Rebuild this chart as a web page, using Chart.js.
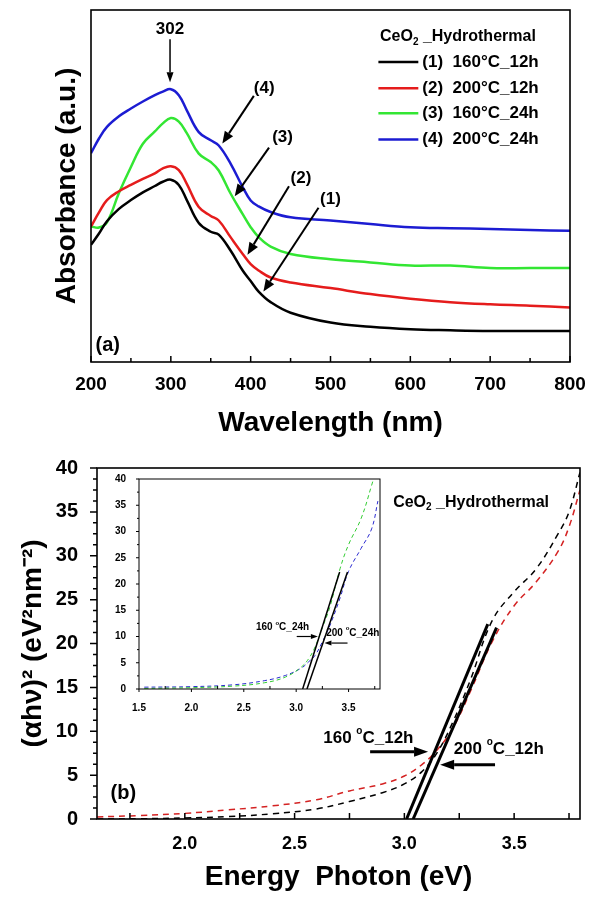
<!DOCTYPE html>
<html>
<head>
<meta charset="utf-8">
<script src="https://cdn.jsdelivr.net/npm/chart.js@4"></script>
<style>
    html, body { margin: 0; padding: 0; background: #fff; }
    body { width: 600px; height: 898px; position: relative; overflow: hidden; }
    canvas { position: absolute; }
    #chartA { left: 0; top: 0; width: 600px; height: 445px; }
    #chartB { left: 0; top: 445px; width: 600px; height: 453px; }
    #chartC { left: 110px; top: 468px; width: 276px; height: 244px; }
</style>
</head>
<body>
<canvas id="chartA" width="600" height="445"></canvas>
<canvas id="chartB" width="600" height="453"></canvas>
<canvas id="chartC" width="276" height="244"></canvas>
<script>
// ---- panel (a): absorbance spectra ----
const wavelength = [200, 210, 220, 235, 250, 265, 280, 290, 300, 310, 320, 335, 350, 360, 375, 390, 400, 410, 425, 450, 500, 550, 600, 650, 700, 750, 800];
const abs160_12 = [33.3, 36.5, 40, 43.5, 46, 48.2, 50, 51.2, 51.8, 50.3, 46, 39.5, 37, 36.2, 31.6, 26, 23, 20, 17, 14, 11.2, 10, 9.3, 9, 8.8, 8.8, 8.8];
const abs200_12 = [38.5, 42.5, 46, 48.5, 50.3, 52, 53.6, 55, 55.6, 54.5, 50.6, 44, 41.5, 40.2, 35.4, 30.7, 27.8, 26, 24, 22.6, 21, 19.3, 18, 17, 16.4, 16, 15.5];
const abs160_24 = [38.5, 38.2, 39.7, 48, 55.4, 62, 65.5, 67.8, 69.3, 68.3, 65, 59.2, 56.8, 54.4, 47.8, 42, 38.3, 35.5, 32.8, 30.7, 29.2, 28.3, 27.4, 27.4, 26.7, 26.7, 26.7];
const abs200_24 = [59.3, 63.5, 66.8, 69.8, 72, 74, 75.8, 76.8, 77.5, 75.8, 71.5, 65.3, 63, 61.5, 56.3, 49.7, 45.9, 44.2, 42.6, 41.1, 40.2, 39.2, 38.3, 38, 37.8, 37.5, 37.3];
const seriesLabelsA = ['(1)  160°C_12h', '(2)  200°C_12h', '(3)  160°C_24h', '(4)  200°C_24h'];
const xTicksA = [200, 300, 400, 500, 600, 700, 800];
const xMinorA = [250, 350, 450, 550, 650, 750];

// ---- panel (b): Tauc plot ----
const energyB = [1.6, 1.8, 2.0, 2.2, 2.4, 2.6, 2.75, 2.9, 3.0, 3.08, 3.15, 3.22, 3.3, 3.4, 3.5, 3.6, 3.7, 3.75, 3.8];
const tauc160_12 = [0, 0.03, 0.12, 0.28, 0.6, 1.15, 2.0, 3.0, 4.0, 5.4, 7.6, 11, 15.8, 22.6, 25.9, 28.5, 32.5, 35, 39.5];
const tauc200_12 = [0.24, 0.4, 0.64, 1.05, 1.5, 2.2, 3.2, 4.0, 4.9, 6.2, 7.9, 10.3, 14.5, 20.2, 24.3, 27, 30.5, 33.3, 37.5];
const fit160_12E = [3.01, 3.38], fit160_12Y = [0, 22.2];
const fit200_12E = [3.04, 3.42], fit200_12Y = [0, 21.8];
const xTicksB = [2.0, 2.5, 3.0, 3.5];
const xMinorB = [1.75, 2.25, 2.75, 3.25, 3.75];
const yTicksB = [0, 5, 10, 15, 20, 25, 30, 35, 40];

// ---- inset ----
const energyC = [1.55, 2.0, 2.4, 2.7, 2.9, 3.05, 3.12, 3.18, 3.25, 3.32, 3.42, 3.5, 3.62, 3.72, 3.78];
const tauc160_24 = [0.1, 0.25, 0.55, 1.2, 2.3, 4.2, 5.8, 8, 11.7, 15.5, 23, 27.5, 32.5, 38.8, 43];
const tauc200_24 = [0.35, 0.45, 0.8, 1.6, 2.6, 4.0, 5.2, 6.4, 9, 12, 17.4, 22.4, 26.8, 30.5, 35.8];
const fit160_24E = [3.062, 3.415], fit160_24Y = [0, 22.3];
const fit200_24E = [3.103, 3.49], fit200_24Y = [0, 22.3];
const xTicksC = [1.5, 2.0, 2.5, 3.0, 3.5];
const xMinorC = [1.75, 2.25, 2.75, 3.25, 3.75];
const yTicksC = [0, 5, 10, 15, 20, 25, 30, 35, 40];

const FONT = "'Liberation Sans', Arial, Helvetica, sans-serif";
Chart.defaults.font.family = FONT;
Chart.defaults.color = '#000';

function minorsBetween(major, parts) {
    const out = [];
    for (let i = 0; i < major.length - 1; i++) {
        const step = (major[i + 1] - major[i]) / parts;
        for (let k = 1; k < parts; k++) out.push(major[i] + k * step);
    }
    return out;
}

function pts(xs, ys) {
    return xs.map((v, i) => ({ x: v, y: ys[i] }));
}

// frame around plot area
const framePlugin = {
    id: 'frame',
    afterDraw(chart) {
        const { ctx, chartArea: a } = chart;
        ctx.save();
        ctx.strokeStyle = '#000';
        ctx.lineWidth = chart.canvas.id === 'chartC' ? 1 : 1.6;
        ctx.strokeRect(a.left, a.top, a.right - a.left, a.bottom - a.top);
        ctx.restore();
    }
};

// tick marks: list of {axis, values, len, dir}
function tickPlugin(list, width) {
    return {
        id: 'tickMarks',
        afterDraw(chart) {
            const { ctx, chartArea: a } = chart;
            ctx.save();
            ctx.strokeStyle = '#000';
            ctx.lineWidth = width;
            ctx.beginPath();
            list.forEach(t => {
                const s = chart.scales[t.axis];
                t.values.forEach(v => {
                    const p = s.getPixelForValue(v);
                    if (t.axis === 'x') {
                        const d = t.dir === 'in' ? -t.len : t.len;
                        ctx.moveTo(p, a.bottom);
                        ctx.lineTo(p, a.bottom + d);
                    } else {
                        const d = t.dir === 'in' ? t.len : -t.len;
                        ctx.moveTo(a.left, p);
                        ctx.lineTo(a.left + d, p);
                    }
                });
            });
            ctx.stroke();
            ctx.restore();
        }
    };
}

function drawArrow(ctx, x1, y1, x2, y2, w, head, half) {
    const ang = Math.atan2(y2 - y1, x2 - x1);
    const bx = x2 - head * Math.cos(ang), by = y2 - head * Math.sin(ang);
    ctx.lineWidth = w;
    ctx.beginPath();
    ctx.moveTo(x1, y1);
    ctx.lineTo(bx, by);
    ctx.stroke();
    ctx.beginPath();
    ctx.moveTo(x2, y2);
    ctx.lineTo(bx + half * Math.sin(ang), by - half * Math.cos(ang));
    ctx.lineTo(bx - half * Math.sin(ang), by + half * Math.cos(ang));
    ctx.closePath();
    ctx.fill();
}

// text parts: [{t, size, dy}]
function drawParts(ctx, x, y, parts, align) {
    let total = 0;
    parts.forEach(p => {
        ctx.font = 'bold ' + p.size + 'px ' + FONT;
        p.w = ctx.measureText(p.t).width;
        total += p.w;
    });
    let cx = align === 'center' ? x - total / 2 : x;
    ctx.textAlign = 'left';
    ctx.textBaseline = 'middle';
    parts.forEach(p => {
        ctx.font = 'bold ' + p.size + 'px ' + FONT;
        ctx.fillText(p.t, cx, y + (p.dy || 0));
        cx += p.w;
    });
}

function notesPlugin(items) {
    return {
        id: 'notes',
        afterDraw(chart) {
            const { ctx, scales: { x, y } } = chart;
            ctx.save();
            ctx.fillStyle = '#000';
            ctx.strokeStyle = '#000';
            items.forEach(it => {
                if (it.arrow) {
                    const [a, b, c, d] = it.arrow;
                    drawArrow(ctx, x.getPixelForValue(a), y.getPixelForValue(b),
                        x.getPixelForValue(c), y.getPixelForValue(d), it.w, it.head, it.half);
                } else {
                    const parts = it.parts || [{ t: it.text, size: it.size }];
                    drawParts(ctx, x.getPixelForValue(it.at[0]), y.getPixelForValue(it.at[1]), parts, it.align || 'center');
                }
            });
            ctx.restore();
        }
    };
}

// legend for panel (a)
const legendA = {
    id: 'legendA',
    afterDraw(chart) {
        const { ctx, scales: { x, y } } = chart;
        ctx.save();
        drawParts(ctx, x.getPixelForValue(562), y.getPixelForValue(92.4),
            [{ t: 'CeO', size: 16 }, { t: '2', size: 10, dy: 5 }, { t: ' _Hydrothermal', size: 16 }], 'left');
        const rows = [85.2, 77.8, 70.7, 63.2];
        chart.data.datasets.forEach((ds, i) => {
            const py = y.getPixelForValue(rows[i]);
            ctx.strokeStyle = ds.borderColor;
            ctx.lineWidth = 2.5;
            ctx.beginPath();
            ctx.moveTo(x.getPixelForValue(560), py);
            ctx.lineTo(x.getPixelForValue(610), py);
            ctx.stroke();
            ctx.fillStyle = '#000';
            drawParts(ctx, x.getPixelForValue(615), py, [{ t: ds.label, size: 17 }], 'left');
        });
        ctx.restore();
    }
};

const colorsA = ['#000000', '#e51c1c', '#33e633', '#1c1cd2'];
const seriesA = [abs160_12, abs200_12, abs160_24, abs200_24];

new Chart(document.getElementById('chartA'), {
    type: 'line',
    data: {
        datasets: seriesA.map((s, i) => ({
            label: seriesLabelsA[i],
            data: pts(wavelength, s),
            borderColor: colorsA[i],
            borderWidth: 2.5,
            pointRadius: 0,
            tension: 0.4,
            fill: false
        }))
    },
    options: {
        responsive: false,
        animation: false,
        layout: { padding: { top: 10, right: 30, left: 0, bottom: 0 } },
        plugins: { legend: { display: false }, tooltip: { enabled: false } },
        scales: {
            x: {
                type: 'linear', min: 200, max: 800,
                grid: { display: false }, border: { display: false },
                afterBuildTicks: s => { s.ticks = xTicksA.map(v => ({ value: v })); },
                afterFit: s => { s.height = 83; },
                ticks: { autoSkip: false, maxRotation: 0, padding: 3, font: { size: 19, weight: 'bold' } },
                title: { display: true, text: 'Wavelength (nm)', font: { size: 28, weight: 'bold' }, padding: { top: 0, bottom: 5 } }
            },
            y: {
                type: 'linear', min: 0, max: 100,
                grid: { display: false }, border: { display: false },
                ticks: { display: false },
                afterFit: s => { s.width = 91; },
                title: { display: true, text: 'Absorbance (a.u.)', font: { size: 28, weight: 'bold' }, padding: { top: 50, bottom: 0 } }
            }
        }
    },
    plugins: [
        framePlugin,
        tickPlugin([
            { axis: 'x', values: xTicksA, len: 6, dir: 'in' },
            { axis: 'x', values: xMinorA, len: 4, dir: 'in' }
        ], 1.5),
        legendA,
        notesPlugin([
            { text: '302', size: 17, at: [299, 94.6] },
            { arrow: [299, 91.7, 299, 79.5], w: 1.5, head: 10, half: 3.5 },
            { text: '(4)', size: 17, at: [417, 77.7] },
            { arrow: [404, 75.6, 364.5, 62.1], w: 2, head: 12, half: 5 },
            { text: '(3)', size: 17, at: [440, 63.7] },
            { arrow: [423, 60.9, 380, 47.1], w: 2, head: 12, half: 5 },
            { text: '(2)', size: 17, at: [463, 52.3] },
            { arrow: [448, 49.9, 396, 30.5], w: 2, head: 12, half: 5 },
            { text: '(1)', size: 17, at: [500, 46.2] },
            { arrow: [485, 43.8, 416, 20], w: 2, head: 12, half: 5 },
            { text: '(a)', size: 20, at: [221, 4.8] }
        ])
    ]
});

new Chart(document.getElementById('chartB'), {
    type: 'line',
    data: {
        datasets: [
            { data: pts(fit160_12E, fit160_12Y), borderColor: '#000', borderWidth: 3, pointRadius: 0 },
            { data: pts(fit200_12E, fit200_12Y), borderColor: '#000', borderWidth: 3, pointRadius: 0 },
            { data: pts(energyB, tauc160_12), borderColor: '#000', borderWidth: 1.5, borderDash: [6, 5], pointRadius: 0, tension: 0.4 },
            { data: pts(energyB, tauc200_12), borderColor: '#d42222', borderWidth: 1.5, borderDash: [6, 5], pointRadius: 0, tension: 0.4 }
        ]
    },
    options: {
        responsive: false,
        animation: false,
        layout: { padding: { top: 18, right: 20, left: 0, bottom: 0 } },
        plugins: { legend: { display: false }, tooltip: { enabled: false } },
        scales: {
            x: {
                type: 'linear', min: 1.6, max: 3.8,
                grid: { display: false }, border: { display: false },
                afterBuildTicks: s => { s.ticks = xTicksB.map(v => ({ value: v })); },
                afterFit: s => { s.height = 79; },
                ticks: { autoSkip: false, maxRotation: 0, padding: 6, font: { size: 18, weight: 'bold' }, callback: v => v.toFixed(1) },
                title: { display: true, text: 'Energy  Photon (eV)', font: { size: 28, weight: 'bold' }, padding: { top: 0, bottom: 4 } }
            },
            y: {
                type: 'linear', min: 0, max: 40,
                grid: { display: false }, border: { display: false },
                afterBuildTicks: s => { s.ticks = yTicksB.map(v => ({ value: v })); },
                afterFit: s => { s.width = 97; },
                ticks: { autoSkip: false, padding: 11, font: { size: 20, weight: 'bold' } },
                title: { display: true, text: '(αhν)² (eV²nm⁻²)', font: { size: 28, weight: 'bold' }, padding: { top: 16, bottom: 0 } }
            }
        }
    },
    plugins: [
        framePlugin,
        tickPlugin([
            { axis: 'x', values: xTicksB, len: 6, dir: 'in' },
            { axis: 'x', values: xMinorB, len: 6, dir: 'in' },
            { axis: 'y', values: yTicksB, len: 7, dir: 'out' },
            { axis: 'y', values: minorsBetween(yTicksB, 4), len: 4, dir: 'out' }
        ], 1.5),
        notesPlugin([
            { parts: [{ t: 'CeO', size: 16 }, { t: '2', size: 10, dy: 5 }, { t: ' _Hydrothermal', size: 16 }], at: [2.949, 36.1], align: 'left' },
            { parts: [{ t: '160 ', size: 17 }, { t: 'o', size: 10, dy: -7 }, { t: 'C_12h', size: 17 }], at: [2.836, 9.2] },
            { arrow: [2.844, 7.67, 3.108, 7.67], w: 3, head: 14, half: 5 },
            { parts: [{ t: '200 ', size: 17 }, { t: 'o', size: 10, dy: -7 }, { t: 'C_12h', size: 17 }], at: [3.43, 7.98] },
            { arrow: [3.413, 6.18, 3.163, 6.18], w: 3, head: 14, half: 5 },
            { text: '(b)', size: 20, at: [1.72, 2.9] }
        ])
    ]
});

new Chart(document.getElementById('chartC'), {
    type: 'line',
    data: {
        datasets: [
            { data: pts(fit160_24E, fit160_24Y), borderColor: '#000', borderWidth: 1.5, pointRadius: 0 },
            { data: pts(fit200_24E, fit200_24Y), borderColor: '#000', borderWidth: 1.5, pointRadius: 0 },
            { data: pts(energyC, tauc160_24), borderColor: '#33cc33', borderWidth: 1, borderDash: [4, 3], pointRadius: 0, tension: 0.4 },
            { data: pts(energyC, tauc200_24), borderColor: '#2a2ad0', borderWidth: 1, borderDash: [4, 3], pointRadius: 0, tension: 0.4 }
        ]
    },
    options: {
        responsive: false,
        animation: false,
        layout: { padding: { top: 8, right: 6, left: 0, bottom: 0 } },
        plugins: { legend: { display: false }, tooltip: { enabled: false } },
        scales: {
            x: {
                type: 'linear', min: 1.5, max: 3.8,
                grid: { display: false }, border: { display: false },
                afterBuildTicks: s => { s.ticks = xTicksC.map(v => ({ value: v })); },
                afterFit: s => { s.height = 23; },
                ticks: { autoSkip: false, maxRotation: 0, padding: 5, font: { size: 10, weight: 'bold' }, callback: v => v.toFixed(1) }
            },
            y: {
                type: 'linear', min: 0, max: 40,
                grid: { display: false }, border: { display: false },
                afterBuildTicks: s => { s.ticks = yTicksC.map(v => ({ value: v })); },
                afterFit: s => { s.width = 29; },
                ticks: { autoSkip: false, padding: 5, font: { size: 10, weight: 'bold' } }
            }
        }
    },
    plugins: [
        framePlugin,
        tickPlugin([
            { axis: 'x', values: xMinorC, len: 3, dir: 'in' },
            { axis: 'x', values: xTicksC, len: 3, dir: 'out' },
            { axis: 'y', values: yTicksC, len: 3, dir: 'out' },
            { axis: 'y', values: minorsBetween(yTicksC, 2), len: 2, dir: 'out' }
        ], 1),
        notesPlugin([
            { parts: [{ t: '160 ', size: 10 }, { t: 'o', size: 6, dy: -4 }, { t: 'C_24h', size: 10 }], at: [2.87, 11.7] },
            { arrow: [3.005, 10, 3.207, 10], w: 1.2, head: 7, half: 2.5 },
            { parts: [{ t: '200 ', size: 10 }, { t: 'o', size: 6, dy: -4 }, { t: 'C_24h', size: 10 }], at: [3.54, 10.7] },
            { arrow: [3.49, 8.75, 3.27, 8.75], w: 1.2, head: 7, half: 2.5 }
        ])
    ]
});
</script>
</body>
</html>
